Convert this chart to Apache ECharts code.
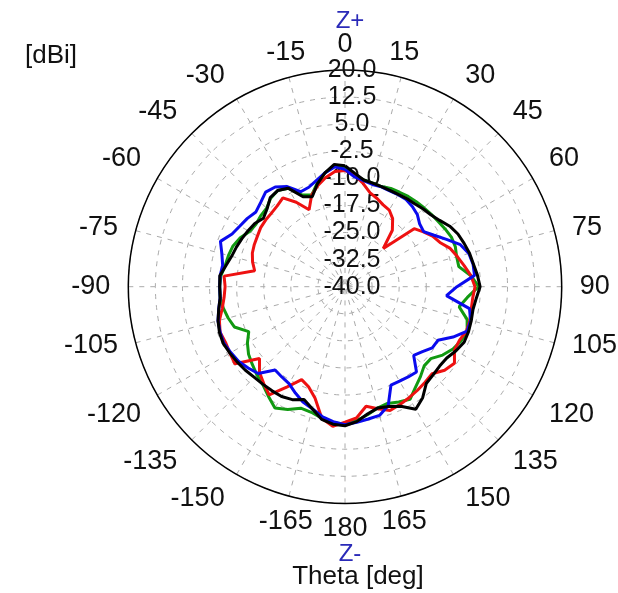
<!DOCTYPE html>
<html>
<head>
<meta charset="utf-8">
<script src="https://cdn.jsdelivr.net/npm/echarts@6/dist/echarts.min.js"></script>
<style>
html,body{margin:0;padding:0;background:#fff;}
#c{width:618px;height:593px;}
</style>
</head>
<body>
<div id="c"></div>
<script>
// Theta sample angles (deg), 0 = Z+, clockwise, 180 = Z-
const theta = [-180,-175,-170,-165,-160,-155,-150,-145,-140,-135,-130,-125,-120,-115,-110,-105,-100,-95,
  -90,-85,-80,-75,-70,-65,-60,-55,-50,-45,-40,-35,-30,-25,-20,-15,-10,-5,
  0,5,10,15,20,25,30,35,40,45,50,55,60,65,70,75,80,85,
  90,95,100,105,110,115,120,125,130,135,140,145,150,155,160,165,170,175];

// gain in dBi
const green = [-2.0,-2.2,-3.0,-4.0,-4.2,-2.5,-1.2,-3.0,-4.6,-5.5,-6.5,-7.4,-8.8,-10.6,-7.4,-6.5,-5.8,-5.3,
  -5.3,-5.5,-6.3,-6.6,-7.0,-8.0,-9.5,-9.9,-9.5,-9.3,-8.0,-7.5,-8.5,-12.0,-13.0,-10.3,-8.0,-6.5,
  -7.0,-9.0,-10.0,-10.3,-10.5,-10.0,-9.8,-9.5,-9.3,-9.1,-8.8,-8.5,-8.0,-7.5,-7.5,-8.0,-8.0,-5.0,
  -3.0,-6.0,-7.9,-5.0,-4.0,-4.5,-5.5,-7.0,-9.0,-9.0,-7.5,-6.0,-4.0,-4.8,-5.6,-5.2,-4.0,-2.8];
const red = [-2.5,-1.2,-3.0,-8.0,-10.5,-11.6,-8.0,-3.4,-5.0,-6.5,-9.1,-2.8,-3.2,-3.5,-3.2,-4.0,-5.5,-6.4,
  -6.8,-6.4,-14.6,-13.5,-12.7,-12.3,-12.0,-11.5,-11.3,-11.2,-10.8,-10.0,-13.0,-16.5,-13.0,-11.0,-9.3,-8.0,
  -7.8,-9.0,-11.0,-13.1,-14.0,-15.0,-15.5,-17.0,-19.6,-25.0,-15.0,-13.5,-12.0,-11.0,-9.0,-7.8,-6.5,-5.0,
  -4.0,-4.5,-4.5,-4.2,-4.2,-5.0,-5.0,-3.0,-4.0,-5.9,-5.5,-5.0,-4.5,-4.0,-3.5,-5.0,-6.4,-3.5];
const blue = [-1.8,-2.5,-3.5,-5.0,-6.0,-7.5,-9.0,-9.5,-9.9,-6.0,-5.0,-4.0,-3.5,-3.0,-3.2,-3.6,-4.5,-5.3,
  -5.3,-5.3,-5.6,-4.7,-3.3,-5.5,-6.4,-7.0,-7.8,-7.0,-5.8,-6.3,-8.0,-11.0,-10.7,-9.5,-8.0,-6.7,
  -7.5,-9.5,-10.2,-10.7,-10.6,-10.7,-10.6,-10.5,-11.0,-11.7,-13.0,-13.4,-11.5,-9.0,-6.0,-4.5,-4.0,-4.0,
  -9.0,-11.8,-5.0,-4.0,-4.0,-7.0,-10.3,-10.5,-12.0,-13.1,-9.2,-9.5,-9.8,-9.9,-5.0,-3.1,-2.8,-2.3];
const black = [-1.5,-1.8,-2.7,-5.0,-6.8,-5.5,-4.9,-4.8,-4.7,-4.5,-4.0,-3.6,-3.2,-2.8,-3.0,-3.6,-4.5,-5.3,
  -5.3,-5.2,-6.5,-7.5,-8.0,-8.5,-9.0,-9.5,-10.5,-9.5,-7.8,-7.5,-8.5,-12.5,-13.5,-10.5,-8.0,-6.0,
  -6.5,-8.5,-10.0,-10.3,-10.5,-10.6,-10.5,-10.2,-10.0,-9.5,-9.0,-8.0,-6.5,-5.5,-4.9,-4.3,-3.9,-3.2,
  -2.6,-3.5,-4.0,-3.8,-3.6,-3.6,-4.5,-5.6,-5.8,-5.5,-5.0,-2.5,-0.8,-3.5,-4.7,-5.2,-4.2,-2.5];

// radial scale (dBi)
const rMin = -40, rMax = 20, rStep = 7.5;
const angleStep = 15;

function toPolar(vals){
  const pts = theta.map((t,i)=>[vals[i]-rMin, (t+360)%360]);
  pts.sort((a,b)=>a[1]-b[1]);
  pts.push([pts[0][0], 360]);
  return pts;
}

const font = "'Liberation Sans', Arial, sans-serif";
const chart = echarts.init(document.getElementById('c'), null, {renderer:'canvas'});
chart.setOption({
  backgroundColor:'#ffffff',
  animation:false,
  title:[
    {text:'[dBi]', left:20, top:38, textStyle:{fontFamily:font,fontSize:26,fontWeight:'normal',color:'#111'}},
    {text:'Z+', left:345, top:4, textAlign:'center', textStyle:{fontFamily:font,fontSize:24,fontWeight:'normal',color:'#2a2ab8'}},
    {text:'Z-', left:345, top:537, textAlign:'center', textStyle:{fontFamily:font,fontSize:24,fontWeight:'normal',color:'#2a2ab8'}},
    {text:'Theta [deg]', left:353, top:559, textAlign:'center', textStyle:{fontFamily:font,fontSize:26,fontWeight:'normal',color:'#111'}}
  ],
  polar:{center:[345,286.7], radius:216.7},
  angleAxis:{
    type:'value', min:0, max:360, interval:angleStep, startAngle:90, clockwise:true,
    axisLine:{show:true, lineStyle:{color:'#000', width:1.5}},
    axisTick:{show:false},
    axisLabel:{margin:12, padding:[0,6], fontFamily:font, fontSize:27, color:'#111',
      formatter:v=> String(v>180 ? v-360 : v)},
    splitLine:{show:true, lineStyle:{color:'#aaa', type:[5,6], width:1}}
  },
  radiusAxis:{
    type:'value', min:0, max:rMax-rMin, interval:rStep,
    axisLine:{show:false}, axisTick:{show:false},
    axisLabel:{margin:-7, align:'center', verticalAlign:'middle', fontFamily:font, fontSize:25, color:'#111',
      formatter:v=>(v+rMin).toFixed(1)},
    splitLine:{show:true, lineStyle:{color:'#aaa', type:[5,6], width:1}}
  },
  series:[
    {type:'line', coordinateSystem:'polar', data:toPolar(green), showSymbol:false, lineStyle:{color:'#119911', width:3}},
    {type:'line', coordinateSystem:'polar', data:toPolar(red), showSymbol:false, lineStyle:{color:'#ee1111', width:3}},
    {type:'line', coordinateSystem:'polar', data:toPolar(blue), showSymbol:false, lineStyle:{color:'#0a0aee', width:3}},
    {type:'line', coordinateSystem:'polar', data:toPolar(black), showSymbol:false, lineStyle:{color:'#000000', width:3}}
  ]
});
</script>
</body>
</html>
